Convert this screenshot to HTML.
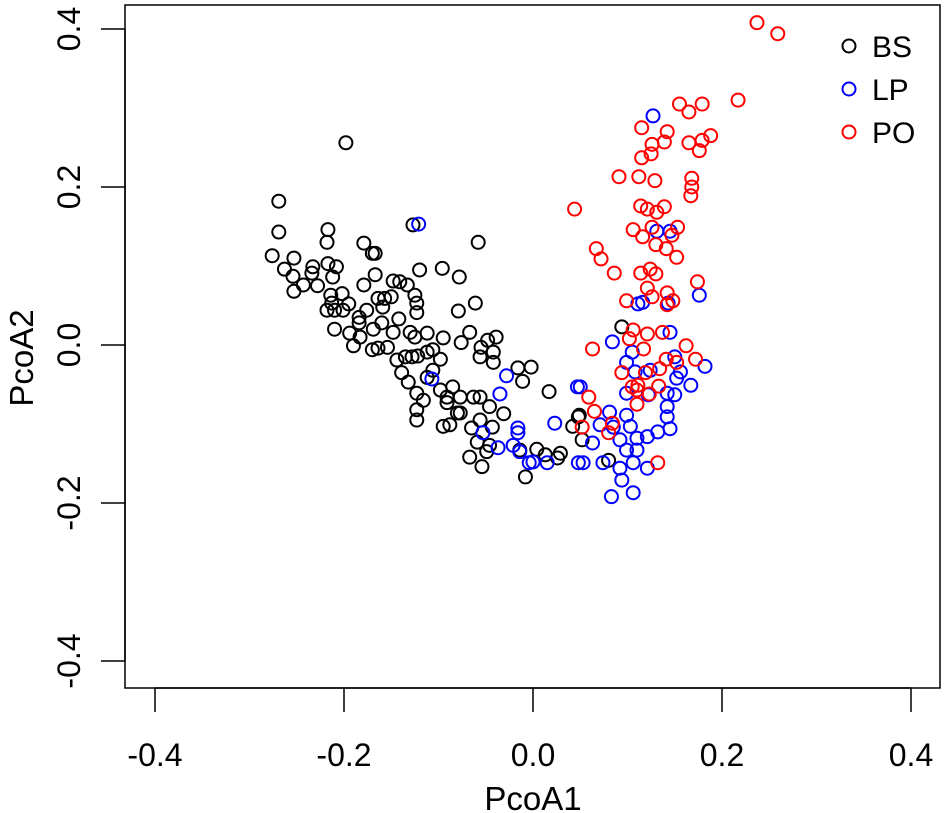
<!DOCTYPE html>
<html><head><meta charset="utf-8"><style>
html,body{margin:0;padding:0;background:#fff;}
svg{display:block;font-family:"Liberation Sans",Arial,sans-serif;}
</style></head><body>
<svg id="chart" width="945" height="813" viewBox="0 0 945 813" xmlns="http://www.w3.org/2000/svg">
<rect x="125" y="5" width="815" height="683" fill="none" stroke="#000" stroke-width="1.5"/>
<g id="axes"></g>
<g id="points"></g>
<g id="legend"></g>
<text x="533" y="810" font-size="33" text-anchor="middle">PcoA1</text>
<text transform="translate(33,358) rotate(-90)" font-size="33" text-anchor="middle">PcoA2</text>
</svg>
<script>
const xTicks=[-0.4,-0.2,0.0,0.2,0.4];
const yTicks=[-0.4,-0.2,0.0,0.2,0.4];
const tickLabels=["-0.4","-0.2","0.0","0.2","0.4"];
const groups=["BS","LP","PO"];
const groupColors=["#000000","#0000ff","#ff0000"];
const bsX=[-0.276,-0.269,-0.269,-0.263,-0.254,-0.253,-0.253,-0.243,-0.233,-0.234,-0.228,-0.217,-0.218,-0.217,-0.208,-0.212,-0.214,-0.202,-0.213,-0.218,-0.210,-0.201,-0.195,-0.198,-0.210,-0.194,-0.190,-0.184,-0.184,-0.176,-0.179,-0.170,-0.167,-0.167,-0.179,-0.164,-0.157,-0.150,-0.159,-0.169,-0.160,-0.183,-0.170,-0.164,-0.154,-0.148,-0.144,-0.148,-0.141,-0.133,-0.142,-0.127,-0.120,-0.125,-0.123,-0.123,-0.130,-0.125,-0.112,-0.096,-0.078,-0.058,-0.061,-0.079,-0.067,-0.076,-0.095,-0.135,-0.128,-0.122,-0.112,-0.106,-0.098,-0.139,-0.132,-0.112,-0.106,-0.123,-0.116,-0.123,-0.123,-0.098,-0.085,-0.091,-0.091,-0.077,-0.063,-0.056,-0.046,-0.077,-0.080,-0.095,-0.088,-0.065,-0.056,-0.043,-0.031,-0.059,-0.046,-0.049,-0.067,-0.054,-0.055,-0.056,-0.048,-0.039,-0.042,-0.042,-0.016,-0.002,-0.011,0.017,0.004,0.013,0.026,0.029,-0.008,-0.014,0.048,0.042,0.094,0.049,0.052,0.080];
const bsY=[0.113,0.182,0.143,0.096,0.087,0.110,0.068,0.076,0.099,0.091,0.075,0.146,0.130,0.103,0.099,0.086,0.063,0.065,0.053,0.044,0.044,0.044,0.052,0.256,0.020,0.015,-0.001,0.035,0.028,0.044,0.129,0.116,0.116,0.089,0.076,0.059,0.059,0.061,0.048,0.020,0.028,0.010,-0.006,-0.004,-0.003,0.016,-0.019,0.081,0.080,0.076,0.033,0.152,0.095,0.063,0.053,0.041,0.016,0.010,0.015,0.097,0.086,0.130,0.053,0.043,0.016,0.003,0.009,-0.015,-0.015,-0.014,-0.009,-0.006,-0.018,-0.035,-0.047,-0.041,-0.032,-0.061,-0.070,-0.082,-0.095,-0.057,-0.053,-0.066,-0.073,-0.066,-0.066,-0.066,-0.078,-0.086,-0.086,-0.103,-0.101,-0.105,-0.095,-0.104,-0.087,-0.123,-0.127,-0.135,-0.142,-0.154,-0.003,-0.015,0.006,0.010,-0.009,-0.022,-0.029,-0.028,-0.046,-0.059,-0.132,-0.139,-0.143,-0.137,-0.167,-0.133,-0.091,-0.103,0.023,-0.089,-0.120,-0.146];
const lpX=[-0.121,-0.028,-0.035,-0.016,-0.016,0.023,0.047,-0.053,-0.037,-0.021,-0.014,-0.004,0.000,0.015,-0.107,0.048,0.127,0.131,0.145,0.176,0.111,0.116,0.143,0.145,0.084,0.105,0.099,0.108,0.124,0.150,0.156,0.152,0.182,0.167,0.050,0.099,0.122,0.150,0.142,0.142,0.081,0.099,0.071,0.103,0.145,0.132,0.063,0.092,0.110,0.121,0.099,0.110,0.053,0.074,0.106,0.121,0.092,0.094,0.083,0.106,0.085,0.142];
const lpY=[0.153,-0.039,-0.062,-0.105,-0.111,-0.099,-0.053,-0.111,-0.130,-0.127,-0.135,-0.149,-0.148,-0.149,-0.043,-0.149,0.290,0.144,0.144,0.063,0.052,0.054,0.053,0.016,0.004,-0.009,-0.022,-0.034,-0.032,-0.015,-0.034,-0.042,-0.027,-0.051,-0.053,-0.061,-0.063,-0.063,-0.078,-0.091,-0.085,-0.089,-0.101,-0.103,-0.106,-0.110,-0.124,-0.120,-0.118,-0.116,-0.133,-0.133,-0.149,-0.149,-0.149,-0.156,-0.156,-0.171,-0.192,-0.187,-0.104,-0.061];
const poX=[0.237,0.259,0.217,0.155,0.165,0.179,0.115,0.142,0.139,0.126,0.125,0.115,0.165,0.179,0.188,0.176,0.091,0.112,0.129,0.168,0.168,0.167,0.044,0.114,0.121,0.131,0.139,0.106,0.126,0.116,0.153,0.147,0.130,0.141,0.152,0.067,0.072,0.086,0.114,0.124,0.130,0.174,0.121,0.126,0.099,0.142,0.148,0.142,0.106,0.121,0.137,0.102,0.063,0.117,0.162,0.141,0.152,0.172,0.134,0.094,0.119,0.105,0.111,0.133,0.110,0.123,0.110,0.059,0.065,0.084,0.080,0.052,0.132];
const poY=[0.408,0.394,0.310,0.305,0.295,0.305,0.275,0.270,0.257,0.254,0.242,0.237,0.256,0.259,0.265,0.246,0.213,0.213,0.208,0.211,0.200,0.189,0.172,0.176,0.172,0.168,0.175,0.146,0.149,0.137,0.149,0.139,0.127,0.122,0.111,0.122,0.109,0.091,0.091,0.096,0.090,0.080,0.072,0.061,0.056,0.066,0.056,0.051,0.019,0.014,0.016,0.008,-0.005,-0.005,-0.001,-0.018,-0.022,-0.018,-0.030,-0.035,-0.035,-0.053,-0.051,-0.052,-0.057,-0.062,-0.075,-0.066,-0.084,-0.099,-0.111,-0.104,-0.149];

const NS="http://www.w3.org/2000/svg";
function sx(v){return 533+v*945;}
function sy(v){return 345-v*790;}
function mk(tag,attrs,parent){const e=document.createElementNS(NS,tag);for(const k in attrs)e.setAttribute(k,attrs[k]);parent.appendChild(e);return e;}
const axes=document.getElementById('axes');
let xl=mk('line',{x1:sx(xTicks[0]),x2:sx(xTicks[xTicks.length-1]),y1:688,y2:688,stroke:'#000','stroke-width':1.5},axes);


xTicks.forEach((t,i)=>{
  const l=mk('line',{x1:sx(t),x2:sx(t),y1:688,y2:712,stroke:'#000','stroke-width':1.5},axes);
  
  
  const tx=mk('text',{x:sx(t),y:766,'font-size':32,'text-anchor':'middle'},axes);
  tx.textContent=tickLabels[i];
  
  
});
let yl=mk('line',{x1:125,x2:125,y1:sy(yTicks[0]),y2:sy(yTicks[yTicks.length-1]),stroke:'#000','stroke-width':1.5},axes);


yTicks.forEach((t,i)=>{
  const l=mk('line',{x1:101,x2:125,y1:sy(t),y2:sy(t),stroke:'#000','stroke-width':1.5},axes);
  
  
  const tx=mk('text',{transform:`translate(80,${sy(t)}) rotate(-90)`,'font-size':32,'text-anchor':'middle'},axes);
  tx.textContent=tickLabels[i];
  
  
});
const pts=document.getElementById('points');
const series=[[bsX,bsY],[lpX,lpY],[poX,poY]];
series.forEach((s,g)=>{
  s[0].forEach((x,i)=>{
    const c=mk('circle',{cx:sx(x),cy:sy(s[1][i]),r:6.5,fill:'none',stroke:groupColors[g],'stroke-width':2},pts);
    
    
  });
});
const lg=document.getElementById('legend');
groups.forEach((g,i)=>{
  const y=46+i*43;
  const c=mk('circle',{cx:849,cy:y,r:6.5,fill:'none',stroke:groupColors[i],'stroke-width':2},lg);
  
  
  const t=mk('text',{x:872,y:y+11,'font-size':30},lg);
  t.textContent=g;
  
  
});
</script>
</body></html>
